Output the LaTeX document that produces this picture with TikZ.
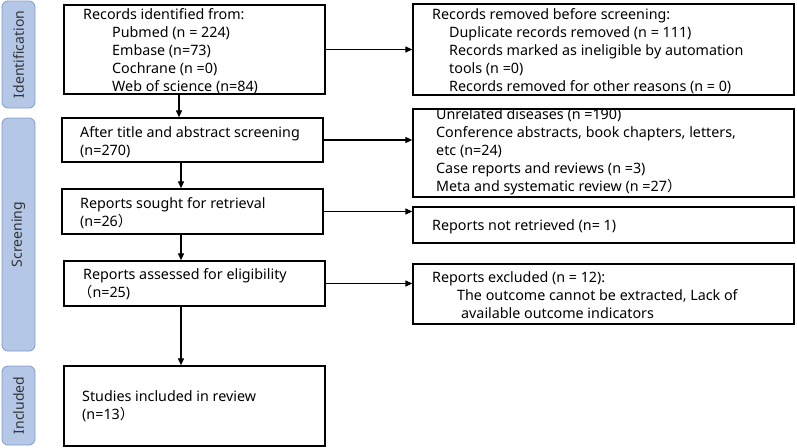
\documentclass[tikz,border=0pt]{standalone}
\usepackage{fontspec}
\setmainfont{Noto Sans}
\newfontfamily\cjk{Noto Sans CJK SC}
\usetikzlibrary{arrows.meta,calc}
\definecolor{sidefill}{HTML}{B4C7E7}
\definecolor{sideborder}{HTML}{7F9CC9}
\begin{document}
\begin{tikzpicture}[x=1pt,y=-1pt,
  box/.style={draw=black, line width=1.3pt, inner sep=0pt},
  txt/.style={anchor=west, align=left, inner sep=0pt, font=\fontsize{14.3}{18}\selectfont, text=black},
  side/.style={draw=sideborder, fill=sidefill, rounded corners=6pt, line width=0.8pt, rotate=90,
    inner sep=0pt, minimum height=33pt, font=\fontsize{14}{15}\selectfont, text=black!80},
  arr/.style={-{Triangle[length=7pt,width=6pt]}, line width=1.2pt}]
\useasboundingbox (0,0) rectangle (797,447);
% side labels
\node[side, minimum width=107pt] (sid) at (18.5,54.5) {Identification};
\node[side, minimum width=233pt] (ssc) at (18.5,234.5) {Screening};
\node[side, minimum width=79pt] (sin) at (18.5,405.5) {Included};
% left boxes
\node[box, minimum width=261pt, minimum height=89pt] (b1) at (194.5,49.5) {};
\node[box, minimum width=261pt, minimum height=44pt] (b2) at (192.5,140) {};
\node[box, minimum width=261pt, minimum height=45pt] (b3) at (192.5,211.5) {};
\node[box, minimum width=261pt, minimum height=45pt] (b4) at (194.5,283.5) {};
\node[box, minimum width=261pt, minimum height=80pt] (b5) at (194.5,406) {};
% right boxes
\node[box, minimum width=381pt, minimum height=91pt] (r1) at (603.5,49.5) {};
\node[box, minimum width=381pt, minimum height=88pt] (r2) at (603.5,153) {};
\node[box, minimum width=381pt, minimum height=36pt] (r3) at (603.5,225) {};
\node[box, minimum width=381pt, minimum height=60pt] (r4) at (603.5,294) {};
% texts
\node[txt] (t1) at (83,51) {Records identified from:\\
  \hspace*{29pt}Pubmed (n = 224)\\
  \hspace*{29pt}Embase (n=73)\\
  \hspace*{29pt}Cochrane (n =0)\\
  \hspace*{29pt}Web of science (n=84)};
\node[txt] (t2) at (80,142.5) {After title and abstract screening\\(n=270)};
\node[txt] (t3) at (80,213) {Reports sought for retrieval\\(n=26{\cjk ）}};
\node[txt] (t4) at (83,284) {Reports assessed for eligibility\\\hspace*{-5pt}{\cjk （}n=25)};
\node[txt] (t5) at (82,406.5) {Studies included in review\\(n=13{\cjk ）}};
\node[txt] (tr1) at (432,51) {Records removed before screening:\\
  \hspace*{17pt}Duplicate records removed (n = 111)\\
  \hspace*{17pt}Records marked as ineligible by automation\\
  \hspace*{17pt}tools (n =0)\\
  \hspace*{17pt}Records removed for other reasons (n = 0)};
\node[txt] (tr2) at (436,152) {Unrelated diseases (n =190)\\
  Conference abstracts, book chapters, letters,\\
  etc (n=24)\\
  Case reports and reviews (n =3)\\
  Meta and systematic review (n =27{\cjk ）}};
\node[txt] (tr3) at (432,227) {Reports not retrieved (n= 1)};
\node[txt] (tr4) at (432,295) {Reports excluded (n = 12):\\
  \hspace*{25pt}The outcome cannot be extracted, Lack of\\
  \hspace*{29pt}available outcome indicators};
% connectors
\coordinate (ax1) at (179,0);
\coordinate (ax2) at (181,0);
\draw[arr] (b1.south -| ax1) -- (b2.north -| ax1);
\draw[arr] (b2.south -| ax2) -- (b3.north -| ax2);
\draw[arr] (b3.south -| ax2) -- (b4.north -| ax2);
\draw[arr] (b4.south -| ax2) -- (b5.north -| ax2);
\draw[arr] (b1.east) -- (r1.west);
\draw[arr] (b2.east) -- (b2.east -| r2.west);
\draw[arr] (b3.east) -- (b3.east -| r3.west);
\draw[arr] (b4.east) -- (b4.east -| r4.west);
\end{tikzpicture}
\end{document}
